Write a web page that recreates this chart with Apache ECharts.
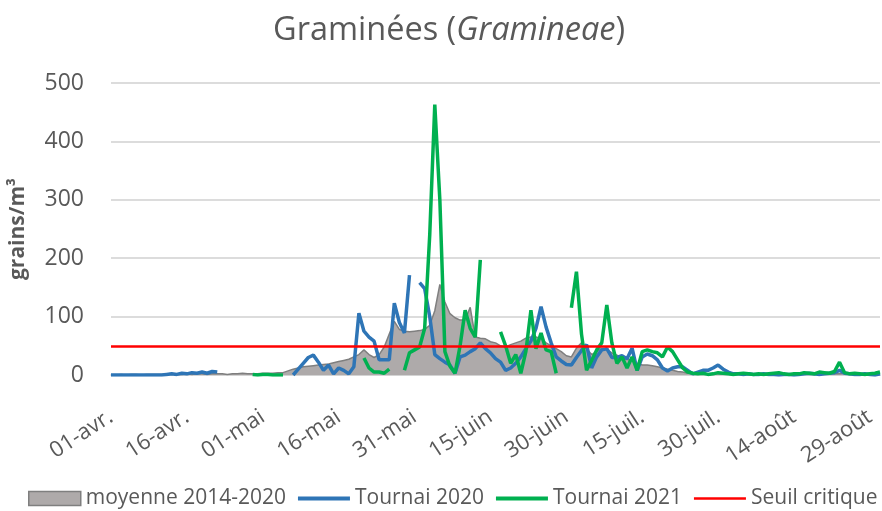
<!DOCTYPE html>
<html>
<head>
<meta charset="utf-8">
<script src="https://cdn.jsdelivr.net/npm/echarts@6/dist/echarts.min.js"></script>
<style>html,body{margin:0;padding:0;background:#fff}#c{width:882px;height:511px}</style>
</head>
<body>
<div id="c"></div>
<script>
// ---- data ----
const monthNames = ['avr.', 'mai', 'juin', 'juil.', 'août'];
const monthDays = [30, 31, 30, 31, 31];
const seuil = 50;
const yTicks = [0, 100, 200, 300, 400, 500];

// moyenne 2014-2020 (1 avr -> 31 août)
const moyenne = [
  0,0,1,0,1,1,0,1,1,1,
  1,1,2,1,1,2,1,2,2,1,
  2,2,2,1,2,2,3,2,2,2,
  3,3,3,4,4,7,10,12,14,15,
  16,17,18,19,21,23,25,27,31,35,
  43,35,30,35,48,70,92,78,75,74,
  75,76,78,85,110,155,125,105,98,94,
  94,116,65,63,62,57,55,50,48,52,
  55,58,63,65,65,62,55,50,45,40,
  33,31,46,55,45,35,40,46,44,38,
  34,30,27,24,20,17,17,16,14,12,
  10,8,6,5,3,3,2,2,2,2,
  2,2,3,2,2,1,2,2,1,2,
  2,1,2,2,1,2,3,2,2,1,
  2,2,3,2,2,3,2,1,2,2,
  1,2,1
];
const _ = null;
const tournai2020 = [
  0,0,0,0,0,0,0,0,0,0,
  0,1,2,1,3,2,4,3,5,3,
  6,5,_,_,_,_,_,_,_,_,
  _,_,_,_,_,_,0,10,20,30,
  34,22,8,17,2,12,8,2,14,106,
  75,65,58,26,26,26,123,90,72,171,
  _,158,148,100,35,28,22,17,3,31,
  34,40,45,55,45,38,28,22,8,12,
  20,31,45,58,80,117,82,55,31,24,
  18,17,30,42,52,12,31,43,45,30,
  30,33,28,46,8,31,36,33,26,12,
  7,12,14,14,8,2,5,8,8,12,
  17,10,5,2,2,1,2,1,1,2,
  1,1,0,1,1,0,1,2,3,2,
  1,2,3,4,8,3,2,1,1,2,
  1,0,2
];
const tournai2021 = [
  _,_,_,_,_,_,_,_,_,_,
  _,_,_,_,_,_,_,_,_,_,
  _,_,_,_,_,_,_,_,1,0,
  1,1,0,0,0,_,_,_,_,_,
  _,_,_,_,_,_,_,_,_,_,
  29,12,5,5,3,10,_,_,8,38,
  43,48,80,240,463,300,40,15,3,50,
  111,80,65,197,_,_,_,74,50,20,
  35,3,40,111,45,72,43,40,3,_,
  _,115,177,70,8,25,43,55,120,55,
  20,31,12,31,8,40,43,40,38,31,
  48,40,26,12,5,3,2,3,1,2,
  4,3,2,1,2,3,2,1,2,1,
  2,3,4,2,1,2,2,4,3,2,
  5,4,3,6,22,4,2,3,2,1,
  2,3,5
];

// categories built from month names
const categories = [];
monthNames.forEach((m, k) => {
  for (let d = 1; d <= monthDays[k]; d++) categories.push((d < 10 ? '0' : '') + d + '-' + m);
});

const FONT = '"Open Sans", "Noto Sans", sans-serif';
const GREY_TXT = '#595959';
const C_AREA = '#aeaaaa', C_AREA_LINE = '#7f7f7f', C_BLUE = '#2e75b6', C_GREEN = '#00b050', C_RED = '#ff0000';

const chart = echarts.init(document.getElementById('c'), null, {renderer: 'canvas'});
chart.setOption({
  animation: false,
  backgroundColor: '#ffffff',
  title: {
    text: '{a|Graminées (}{b|Gramineae}{a|)}',
    left: 268,
    top: 9,
    textStyle: {
      fontWeight: 'normal',
      rich: {
        a: {fontSize: 32.5, color: GREY_TXT, fontFamily: FONT, fontWeight: 'normal'},
        b: {fontSize: 32.5, color: GREY_TXT, fontFamily: FONT, fontWeight: 'normal', fontStyle: 'italic'}
      }
    }
  },
  grid: {left: 102, right: 2, top: 83, bottom: 136, containLabel: false},
  legend: {
    top: 488,
    left: 28,
    width: 854,
    padding: 0,
    itemWidth: 52,
    itemHeight: 14,
    itemGap: 12,
    textStyle: {fontSize: 21, color: GREY_TXT, fontFamily: FONT},
    data: [
      {name: 'moyenne 2014-2020', icon: 'rect', itemStyle: {color: C_AREA, borderColor: C_AREA_LINE, borderWidth: 1.5}},
      {name: 'Tournai 2020', icon: 'path://M0,0H52V4H0Z', itemStyle: {color: C_BLUE}},
      {name: 'Tournai 2021', icon: 'path://M0,0H52V4H0Z', itemStyle: {color: C_GREEN}},
      {name: 'Seuil critique', icon: 'path://M0,0H52V2.5H0Z', itemStyle: {color: C_RED}}
    ]
  },
  xAxis: {
    type: 'category',
    data: categories,
    boundaryGap: false,
    axisLine: {lineStyle: {color: '#d0d0d0', width: 1.5}},
    axisTick: {show: false},
    axisLabel: {interval: 14, rotate: 33, margin: 40, fontSize: 22, color: GREY_TXT, fontFamily: FONT},
    splitLine: {show: false}
  },
  yAxis: {
    type: 'value',
    min: yTicks[0],
    max: yTicks[yTicks.length - 1],
    interval: 100,
    name: 'grains/m³',
    nameLocation: 'middle',
    nameRotate: 90,
    nameGap: 82,
    nameTextStyle: {fontSize: 21, fontWeight: 'bold', color: GREY_TXT, fontFamily: FONT},
    axisLine: {show: false},
    axisTick: {show: false},
    axisLabel: {margin: 27, fontSize: 23, color: GREY_TXT, fontFamily: FONT},
    splitLine: {lineStyle: {color: '#d0d0d0', width: 1.5}}
  },
  series: [
    {
      name: 'moyenne 2014-2020', type: 'line', data: moyenne, symbol: 'none',
      lineStyle: {color: C_AREA_LINE, width: 1.5},
      itemStyle: {color: C_AREA},
      areaStyle: {color: C_AREA, opacity: 1},
      z: 1
    },
    {
      name: 'Tournai 2020', type: 'line', data: tournai2020, symbol: 'none',
      lineStyle: {color: C_BLUE, width: 3.5}, itemStyle: {color: C_BLUE}, z: 2
    },
    {
      name: 'Tournai 2021', type: 'line', data: tournai2021, symbol: 'none',
      lineStyle: {color: C_GREEN, width: 3.5}, itemStyle: {color: C_GREEN}, z: 3
    },
    {
      name: 'Seuil critique', type: 'line', data: [], symbol: 'none',
      lineStyle: {color: C_RED, width: 2.5}, itemStyle: {color: C_RED}, z: 4,
      markLine: {
        silent: true, symbol: 'none', animation: false,
        label: {show: false},
        lineStyle: {color: C_RED, width: 2.5, type: 'solid'},
        data: [{yAxis: seuil}]
      }
    }
  ]
});
</script>
</body>
</html>
